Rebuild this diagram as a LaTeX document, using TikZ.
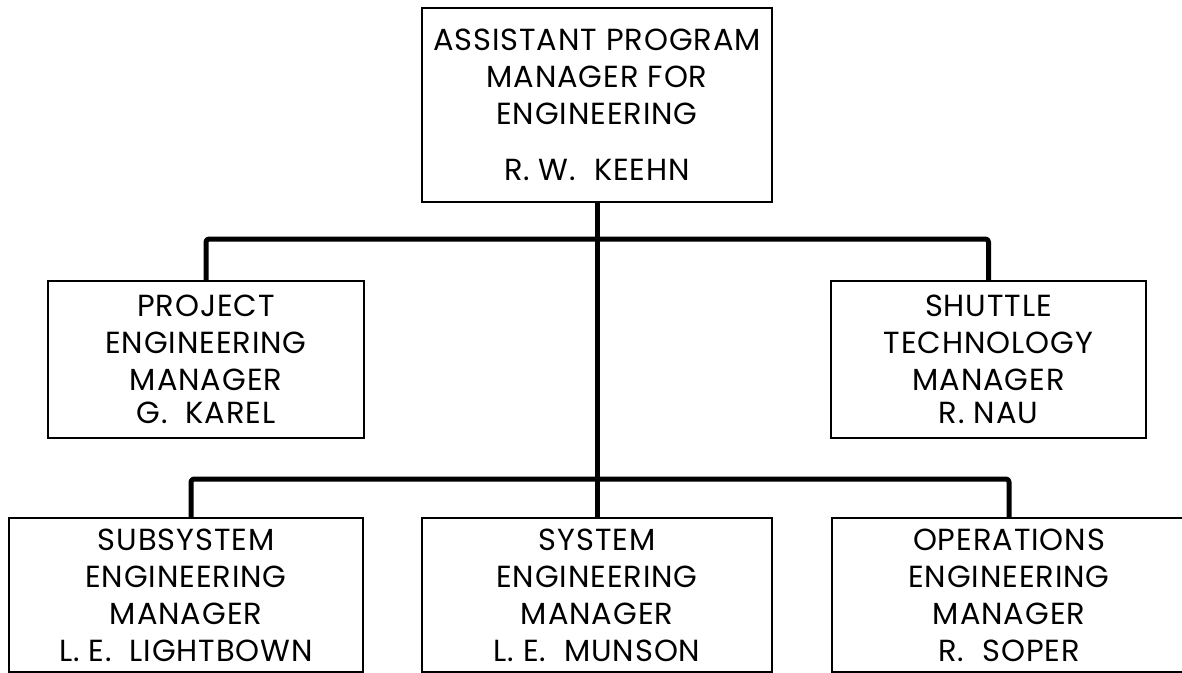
\documentclass[tikz,border=0pt]{standalone}
\usepackage{fontspec}
\setmainfont[LetterSpace=3]{Poppins}
\tikzset{
	orgbox/.style={draw, line width=1.6pt, align=center, inner sep=0pt, minimum height=157pt,
		font=\fontsize{30.5}{37}\selectfont},
	orgline/.style={line width=5pt, rounded corners=3pt, line join=round}
}
\begin{document}
\begin{tikzpicture}[x=1pt,y=-1pt]
		\useasboundingbox (0,0) rectangle (1182,672);
		\clip (0,0) rectangle (1182,672);
		% boxes
		\node[orgbox, minimum width=350pt, minimum height=194pt] (apm) at (597,105) {ASSISTANT PROGRAM\\MANAGER FOR\\ENGINEERING\\[19pt]R. W.\ \ KEEHN};
		\node[orgbox, minimum width=316pt] (proj) at (206,359.5) {PROJECT\\ENGINEERING\\MANAGER\\[-4pt]G.\ \ KAREL};
		\node[orgbox, minimum width=315pt] (tech) at (988.5,359.5) {SHUTTLE\\TECHNOLOGY\\MANAGER\\[-4pt]R. NAU};
		\node[orgbox, minimum width=354pt, minimum height=154pt] (sub) at (186,595) {SUBSYSTEM\\ENGINEERING\\MANAGER\\L. E.\ \ LIGHTBOWN};
		\node[orgbox, minimum width=350pt, minimum height=154pt] (sys) at (597,595) {SYSTEM\\ENGINEERING\\MANAGER\\L. E.\ \ MUNSON};
		\node[orgbox, minimum width=354pt, minimum height=154pt] (ops) at (1009,595) {OPERATIONS\\ENGINEERING\\MANAGER\\R.\ \ SOPER};
		% connectors
		\coordinate (busa) at (597,239);
		\coordinate (busb) at (597,479);
		\draw[orgline] (apm.south) -- (sys.north);
		\draw[orgline] (proj.north) |- (busa) -| (tech.north);
		\draw[orgline] ([xshift=5pt]sub.north) |- (busb) -| (ops.north);
	\end{tikzpicture}
\end{document}
